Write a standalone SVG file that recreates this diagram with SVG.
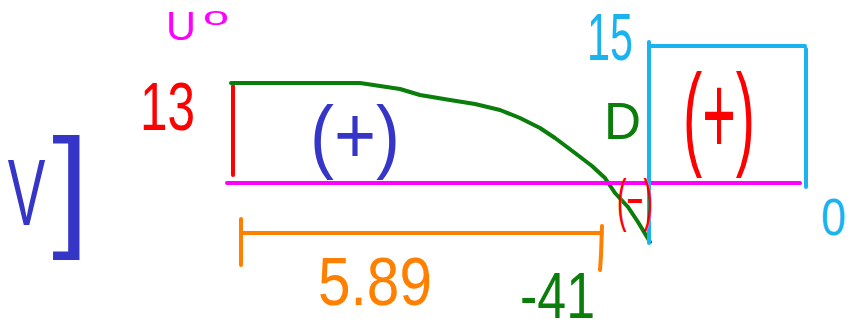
<svg xmlns="http://www.w3.org/2000/svg" width="850" height="334" viewBox="0 0 850 334">
<style>
.s{fill:none;stroke-width:4;stroke-linecap:round;stroke-linejoin:round}
.t{font-family:"Liberation Sans","DejaVu Sans",sans-serif}
.red{stroke:#ff0000}.grn{stroke:#0a7d0a}.mag{stroke:#ff00ff}.cyn{stroke:#1ab3ef}.org{stroke:#ff8000}.blu{stroke:#3535c8}
</style>
<rect width="850" height="334" fill="#ffffff"/>
<g id="lines">
<path class="s red" d="M233,86 L233,175"/>
<path class="s grn" d="M231,83 L360,83 L380,86 L400,89 L420,95 L450,100 L475,104 L500,110 L520,118 L540,128 L555,138 L575,153 L592,166 L605,178 L615,193 L628,207 L638,222 L644,232 L650,242"/>
<path class="s mag" d="M227,183 L800,183"/>
<path class="s cyn" d="M649,42 L649,243 M649,46 L805,46 M806,49 L806,187"/>
<path class="s org" d="M241,233 L602,233 M241,219 L241,265 M602,226 L601,255 L600,270"/>
</g>
<g id="labels">
<text class="t" fill="#3535c8" font-size="94" transform="scale(0.6,1)" x="13" y="225">V</text>
<text class="t" fill="#3535c8" font-size="133" x="52" y="232">]</text>
<text class="t" x="166" y="40" font-size="40" fill="#ff00ff" textLength="30" lengthAdjust="spacingAndGlyphs">U</text>
<text class="t" x="203" y="25" font-size="25" fill="#ff00ff" textLength="26" lengthAdjust="spacingAndGlyphs">o</text>
<text class="t" x="140" y="130" font-size="68" fill="#ff0000" textLength="55" lengthAdjust="spacingAndGlyphs">13</text>
<text class="t" x="587" y="60" font-size="66" fill="#1ab3ef" textLength="46" lengthAdjust="spacingAndGlyphs">15</text>
<text class="t" x="821" y="235" font-size="51" fill="#1ab3ef" textLength="25" lengthAdjust="spacingAndGlyphs">0</text>
<text class="t" x="604" y="139" font-size="52" fill="#0a7d0a" textLength="37" lengthAdjust="spacingAndGlyphs">D</text>
<text class="t" x="310" y="163" font-size="82" fill="#3535c8" textLength="90" lengthAdjust="spacingAndGlyphs">(+)</text>
<text class="t" x="683" y="154" font-size="115" fill="#ff0000" textLength="72" lengthAdjust="spacingAndGlyphs">(+)</text>
<text class="t" x="617" y="220" font-size="57" fill="#ff0000" textLength="36" lengthAdjust="spacingAndGlyphs">(−)</text>
<text class="t" x="318" y="305" font-size="69" fill="#ff8000" textLength="114" lengthAdjust="spacingAndGlyphs">5.89</text>
<text class="t" x="520" y="318" font-size="64" fill="#0a7d0a" textLength="75" lengthAdjust="spacingAndGlyphs">-41</text>
</g>
</svg>
